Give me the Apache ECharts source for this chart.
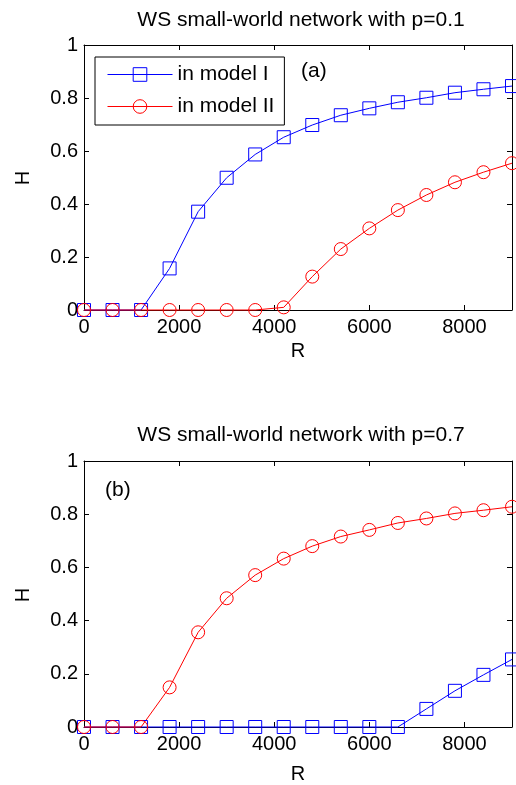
<!DOCTYPE html>
<html>
<head>
<meta charset="utf-8">
<script src="https://cdn.jsdelivr.net/npm/echarts@6/dist/echarts.min.js"></script>
<style>
  html, body { margin: 0; padding: 0; background: #fff; }
  #chart { width: 516px; height: 785px; }
</style>
</head>
<body>
<div id="chart"></div>
<script>
// R values (shared by all curves)
const rValues = [0, 600, 1200, 1800, 2400, 3000, 3600, 4200, 4800, 5400, 6000, 6600, 7200, 7800, 8400, 9000];

// (a) p = 0.1
const hModelIa  = [0, 0, 0, 0.157, 0.371, 0.499, 0.587, 0.652, 0.698, 0.735, 0.761, 0.784, 0.801, 0.820, 0.833, 0.845];
const hModelIIa = [0, 0, 0, 0, 0, 0, 0, 0.01, 0.126, 0.230, 0.308, 0.377, 0.434, 0.482, 0.520, 0.554];

// (b) p = 0.7
const hModelIb  = [0, 0, 0, 0, 0, 0, 0, 0, 0, 0, 0, 0, 0.068, 0.136, 0.196, 0.254];
const hModelIIb = [0, 0, 0, 0.149, 0.356, 0.484, 0.571, 0.633, 0.680, 0.716, 0.741, 0.767, 0.784, 0.803, 0.815, 0.828];

const xTicks = [0, 2000, 4000, 6000, 8000];
const titles = ['WS small-world network with p=0.1', 'WS small-world network with p=0.7'];
const seriesNames = ['in model I', 'in model II'];

const FONT = 'Liberation Sans, Arial, sans-serif';
const BLUE = '#0000ff';
const RED = '#ff0000';

const chart = echarts.init(document.getElementById('chart'));

const pairs = ys => rValues.map((r, i) => [r, ys[i]]);

function xAxes(gridIndex) {
  const base = {
    gridIndex: gridIndex,
    type: 'value',
    min: 0,
    max: 9000,
    interval: 2000,
    splitLine: { show: false },
    axisLine: { show: true, onZero: false, lineStyle: { color: '#000', width: 1 } },
    axisTick: { show: true, inside: true, length: 5, lineStyle: { color: '#000' } }
  };
  return [
    Object.assign({}, base, {
      position: 'bottom',
      name: 'R',
      nameLocation: 'middle',
      nameGap: gridIndex === 0 ? 31 : 37,
      nameTextStyle: { color: '#000', fontSize: 20, fontFamily: FONT },
      axisLabel: {
        color: '#000', fontSize: 20, fontFamily: FONT, margin: 7,
        formatter: v => xTicks.indexOf(v) >= 0 ? String(v) : ''
      }
    }),
    Object.assign({}, base, { position: 'top', axisLabel: { show: false } })
  ];
}

function yAxes(gridIndex) {
  const base = {
    gridIndex: gridIndex,
    type: 'value',
    min: 0,
    max: 1,
    interval: 0.2,
    splitLine: { show: false },
    axisLine: { show: true, onZero: false, lineStyle: { color: '#000', width: 1 } },
    axisTick: { show: true, inside: true, length: 5, lineStyle: { color: '#000' } }
  };
  return [
    Object.assign({}, base, {
      position: 'left',
      axisLabel: { color: '#000', fontSize: 20, fontFamily: FONT, margin: 6 }
    }),
    Object.assign({}, base, { position: 'right', axisLabel: { show: false } })
  ];
}

function lineSeries(name, ys, color, symbol, axisIndex) {
  return {
    name: name,
    type: 'line',
    xAxisIndex: axisIndex,
    yAxisIndex: axisIndex,
    data: pairs(ys),
    symbol: symbol,
    symbolSize: 13,
    showAllSymbol: true,
    clip: false,
    animation: false,
    lineStyle: { color: color, width: 1 },
    itemStyle: { color: 'rgba(0,0,0,0)', borderColor: color, borderWidth: 1 }
  };
}

// rotated "H" label for each panel's y axis
function yName(cy) {
  return {
    type: 'text', x: 23, y: cy, rotation: Math.PI / 2, z: 100,
    style: { text: 'H', fill: '#000', font: '20px ' + FONT, align: 'center', verticalAlign: 'middle' }
  };
}

chart.setOption({
  backgroundColor: '#fff',
  animation: false,
  title: [
    { text: titles[0], left: 296, top: 5, textAlign: 'center',
      textStyle: { color: '#000', fontSize: 21, fontWeight: 'normal', fontFamily: FONT } },
    { text: titles[1], left: 296, top: 420, textAlign: 'center',
      textStyle: { color: '#000', fontSize: 21, fontWeight: 'normal', fontFamily: FONT } }
  ],
  legend: {
    data: seriesNames,
    orient: 'vertical',
    left: 95,
    top: 57,
    padding: [7, 10, 8, 12],
    itemGap: 11,
    itemWidth: 65,
    itemHeight: 17,
    borderColor: '#000',
    borderWidth: 1,
    backgroundColor: '#fff',
    lineStyle: { width: 1 },
    itemStyle: { borderWidth: 1 },
    textStyle: { color: '#000', fontSize: 21, fontFamily: FONT }
  },
  grid: [
    { left: 84, top: 45, width: 428, height: 265 },
    { left: 84, top: 461, width: 428, height: 267 }
  ],
  xAxis: xAxes(0).concat(xAxes(1)),
  yAxis: yAxes(0).concat(yAxes(1)),
  series: [
    lineSeries(seriesNames[0], hModelIa, BLUE, 'rect', 0),
    lineSeries(seriesNames[1], hModelIIa, RED, 'circle', 0),
    // second panel uses axes 2 (bottom x / left y of grid 1)
    lineSeries(seriesNames[0], hModelIb, BLUE, 'rect', 2),
    lineSeries(seriesNames[1], hModelIIb, RED, 'circle', 2)
  ],
  graphic: [
    yName(178),
    yName(595),
    { type: 'text', left: 301, top: 61, z: 100,
      style: { text: '(a)', fill: '#000', font: '21px ' + FONT } },
    { type: 'text', left: 105, top: 480, z: 100,
      style: { text: '(b)', fill: '#000', font: '21px ' + FONT } }
  ]
});
</script>
</body>
</html>
